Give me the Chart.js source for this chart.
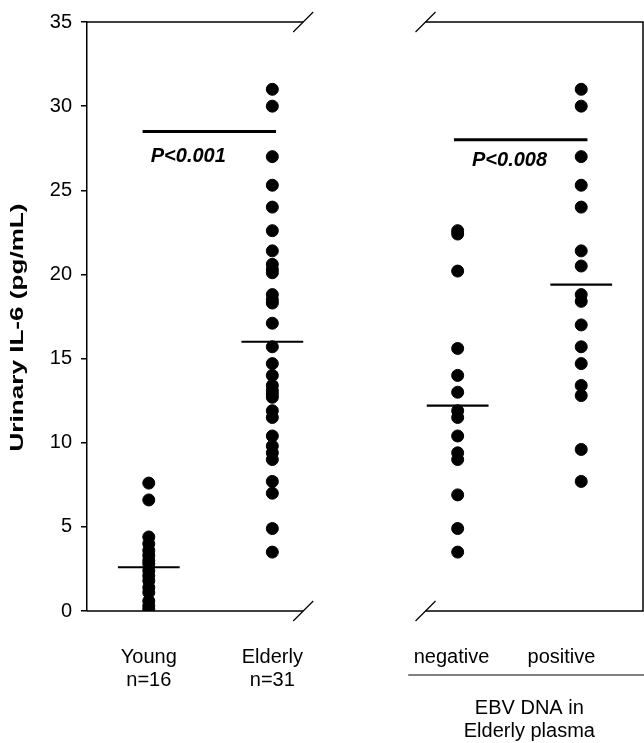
<!DOCTYPE html>
<html>
<head>
<meta charset="utf-8">
<script src="https://cdn.jsdelivr.net/npm/chart.js@4"></script>
<style>
  body { margin: 0; background: #fff; }
  #wrap { width: 644px; height: 743px; }
</style>
</head>
<body>
<div id="wrap"><canvas id="chart"></canvas></div>
<script>
// x position of each group on the linear x scale
const groupX = [1, 2, 3.5, 4.5];

const youngValues = [7.6, 6.6, 4.4, 4.0, 3.6, 3.3, 3.0, 2.8, 2.4, 2.1, 1.8, 1.4, 1.1, 0.6, 0.3, 0.1];
const elderlyValues = [31.0, 30.0, 27.0, 25.3, 24.0, 22.6, 21.4, 20.6, 20.3, 20.1, 18.8, 18.5, 18.3,
  17.1, 15.7, 14.7, 14.0, 13.4, 13.1, 12.9, 12.7, 11.9, 11.5, 10.4, 9.8, 9.4, 9.0, 7.7, 7.0, 4.9, 3.5];
const ebvNegValues = [22.6, 22.4, 20.2, 15.6, 14.0, 13.0, 11.9, 11.5, 10.4, 9.4, 9.0, 6.9, 4.9, 3.5];
const ebvPosValues = [31.0, 30.0, 27.0, 25.3, 24.0, 21.4, 20.5, 18.8, 18.4, 17.0, 15.7, 14.7, 13.4, 12.8, 9.6, 7.7];

// horizontal bar for each group
const centreValues = [2.6, 16.0, 12.2, 19.4];

// significance bars: [xStart, xEnd, y]
const pBars = [[0.95, 2.03, 28.5], [3.47, 4.55, 28.0]];
const pLabels = ["P<0.001", "P<0.008"];
const pLabelPos = [[1.32, 27.0], [3.92, 26.8]];

const yTicks = [0, 5, 10, 15, 20, 25, 30, 35];
const yTitle = "Urinary IL-6 (pg/mL)";

const groupLabels = [["Young", "n=16"], ["Elderly", "n=31"], ["negative"], ["positive"]];
const groupLabelX = [1, 2, 3.45, 4.34];
const ebvLabel = ["EBV DNA in", "Elderly plasma"];

// broken axis between the two panels
const breakLeft = 2.25;
const breakRight = 3.24;

const allValues = [youngValues, elderlyValues, ebvNegValues, ebvPosValues];

const FONT = "'Liberation Sans', Arial, sans-serif";

const datasets = [];
allValues.forEach((vals, i) => {
  datasets.push({
    data: vals.map(v => ({ x: groupX[i], y: v })),
    backgroundColor: "#000",
    borderColor: "#000",
    pointRadius: 6,
    pointBorderWidth: 1,
    showLine: false
  });
});
centreValues.forEach((m, i) => {
  datasets.push({
    data: [{ x: groupX[i] - 0.25, y: m }, { x: groupX[i] + 0.25, y: m }],
    borderColor: "#000",
    borderWidth: 2.2,
    pointRadius: 0,
    showLine: true
  });
});
pBars.forEach(b => {
  datasets.push({
    data: [{ x: b[0], y: b[2] }, { x: b[1], y: b[2] }],
    borderColor: "#000",
    borderWidth: 3,
    pointRadius: 0,
    showLine: true
  });
});

const extras = {
  id: "extras",
  afterDraw(chart) {
    const ctx = chart.ctx;
    const xs = chart.scales.x;
    const ys = chart.scales.y;
    const area = chart.chartArea;
    const top = area.top, bottom = area.bottom;
    const bl = xs.getPixelForValue(breakLeft);
    const br = xs.getPixelForValue(breakRight);

    ctx.save();
    ctx.strokeStyle = "#000";
    ctx.lineWidth = 1.5;
    ctx.beginPath();
    // left panel top & bottom
    ctx.moveTo(area.left, top); ctx.lineTo(bl, top);
    ctx.moveTo(area.left, bottom); ctx.lineTo(bl, bottom);
    // right panel
    ctx.moveTo(br, top); ctx.lineTo(area.right, top);
    ctx.lineTo(area.right, bottom); ctx.lineTo(br, bottom);
    ctx.stroke();

    // break slashes
    ctx.lineWidth = 1.2;
    ctx.beginPath();
    [bl, br].forEach(x => {
      [top, bottom].forEach(y => {
        ctx.moveTo(x - 10, y + 10);
        ctx.lineTo(x + 10, y - 10);
      });
    });
    ctx.stroke();

    // P values
    ctx.fillStyle = "#000";
    ctx.font = "italic bold 20px " + FONT;
    ctx.textAlign = "center";
    ctx.textBaseline = "middle";
    pLabels.forEach((t, i) => {
      ctx.fillText(t, xs.getPixelForValue(pLabelPos[i][0]), ys.getPixelForValue(pLabelPos[i][1]));
    });

    // group labels under the axis
    ctx.font = "20px " + FONT;
    groupLabels.forEach((lines, i) => {
      const x = xs.getPixelForValue(groupLabelX[i]);
      lines.forEach((t, j) => ctx.fillText(t, x, bottom + 46 + j * 23));
    });

    // EBV bracket line and caption
    ctx.lineWidth = 1.2;
    ctx.beginPath();
    ctx.moveTo(xs.getPixelForValue(3.1), bottom + 64);
    ctx.lineTo(chart.width, bottom + 64);
    ctx.stroke();
    const ex = xs.getPixelForValue(4.08);
    ebvLabel.forEach((t, j) => ctx.fillText(t, ex, bottom + 97 + j * 23));

    // y axis title (stretched like the original)
    ctx.translate(18, (top + bottom) / 2 + 11);
    ctx.rotate(-Math.PI / 2);
    ctx.scale(1.45, 1);
    ctx.font = "bold 18px " + FONT;
    ctx.fillText(yTitle, 0, 0);
    ctx.restore();
  }
};

new Chart(document.getElementById("chart"), {
  type: "scatter",
  data: { datasets: datasets },
  options: {
    responsive: true,
    maintainAspectRatio: false,
    animation: false,
    events: [],
    layout: { autoPadding: false, padding: { left: 0, right: 1, top: 22, bottom: 132 } },
    plugins: { legend: { display: false }, tooltip: { enabled: false } },
    scales: {
      x: { type: "linear", min: 0.5, max: 5.0, display: false },
      y: {
        min: 0,
        max: 35,
        afterBuildTicks: s => { s.ticks = yTicks.map(v => ({ value: v })); },
        afterFit: s => { s.width = 87; },
        ticks: { color: "#000", padding: 9, font: { size: 20, family: FONT } },
        grid: { drawOnChartArea: false, tickLength: 6, color: "#000", lineWidth: 1.5 },
        border: { display: true, color: "#000", width: 1.5 }
      }
    }
  },
  plugins: [extras]
});
</script>
</body>
</html>
